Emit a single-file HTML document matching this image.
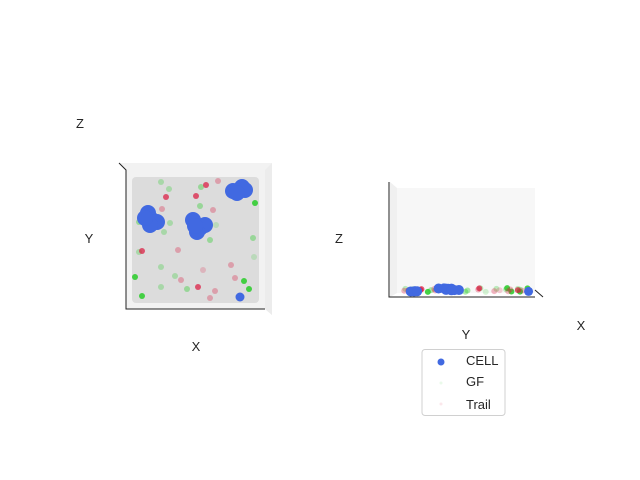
<!DOCTYPE html>
<html><head><meta charset="utf-8"><style>
html,body{margin:0;padding:0;background:#fff;}
svg{display:block;font-family:"Liberation Sans","DejaVu Sans",sans-serif;}
text{font-size:13px;fill:#262626;}
</style></head><body>
<svg id="chart" width="640" height="480" viewBox="0 0 640 480">
  <rect width="640" height="480" fill="#fff"/>
  <g>
    <polygon points="120,163 272,163 272,315 265,309 126,309 126,170" fill="#f2f2f2"/>
    <polygon points="265,170 272,163 272,315 265,309" fill="#ececec"/>
    <rect x="132" y="177" width="127" height="126" rx="4" fill="#dcdcdc"/>
    <path d="M119,163 L126,170 L126,309 L265,309" fill="none" stroke="#222" stroke-width="1"/>
    <g id="leftPts"></g>
    <text x="80" y="128" text-anchor="middle">Z</text>
    <text x="89" y="243" text-anchor="middle">Y</text>
    <text x="196" y="351" text-anchor="middle">X</text>
  </g>
  <g>
    <polygon points="390,182 397,188 397,293 390,297" fill="#f0f0f0"/>
    <rect x="397" y="188" width="138" height="105" fill="#f7f7f7"/>
    <path d="M389,182 L389,297 L535,297 M535,290 L543,297" fill="none" stroke="#222" stroke-width="1"/>
    <g id="rightPts"></g>
    <text x="339" y="243" text-anchor="middle">Z</text>
    <text x="466" y="339" text-anchor="middle">Y</text>
    <text x="581" y="330" text-anchor="middle">X</text>
  </g>
  <g>
    <rect x="422" y="349.5" width="83" height="66" rx="3" fill="#fff" stroke="#d0d0d0"/>
    <circle cx="441" cy="362" r="3.5" fill="#4169e1"/>
    <text x="466" y="365">CELL</text>
    <circle cx="441" cy="383" r="1.5" fill="#32cd32" opacity="0.1"/>
    <text x="466" y="386">GF</text>
    <circle cx="441" cy="404" r="1.5" fill="#dc143c" opacity="0.1"/>
    <text x="466" y="409">Trail</text>
  </g>
</svg>
<script>
const cellX=[16,20,25,18,13,61,68,73,65,63,101,110,113,105,108];
const cellY=[90,83,81,78,85,83,75,78,71,77,112,116,113,110,6];
const gfX=[29,37,69,123,68,7,38,32,78,121,7,29,3,43,112,117,55,29,10,84,122];
const gfY=[121,114,116,100,97,81,80,71,63,65,51,36,26,27,22,14,14,16,7,78,46];
const gfA=[0.3,0.3,0.4,0.9,0.4,0.4,0.3,0.3,0.4,0.4,0.3,0.3,0.9,0.3,0.9,0.9,0.4,0.3,0.9,0.2,0.2];
const trX=[74,34,64,86,30,81,10,46,71,49,66,78,83,103,99];
const trY=[118,106,107,122,94,93,52,53,33,23,16,5,12,25,38];
const trA=[0.7,0.7,0.7,0.3,0.3,0.3,0.7,0.3,0.2,0.3,0.7,0.3,0.3,0.3,0.3];
const sx=v=>132+v, sy=v=>303-v;
const rx=y=>535-y*135/126, rz=x=>288+x/127*4;
const NS='http://www.w3.org/2000/svg';
const L=document.getElementById('leftPts'), R=document.getElementById('rightPts');
function dot(g,cx,cy,r,fill,op,name){
  const c=document.createElementNS(NS,'circle');
  c.setAttribute('cx',cx);c.setAttribute('cy',cy);c.setAttribute('r',r);
  c.setAttribute('fill',fill);c.setAttribute('opacity',op);
  
  
  g.appendChild(c);
}
for(let i=0;i<gfX.length;i++){dot(L,sx(gfX[i]),sy(gfY[i]),3,'#32cd32',gfA[i],'gf-point');dot(R,rx(gfY[i]),rz(gfX[i]),3,'#32cd32',gfA[i],'gf-point');}
for(let i=0;i<trX.length;i++){dot(L,sx(trX[i]),sy(trY[i]),3,'#dc143c',trA[i],'trail-point');dot(R,rx(trY[i]),rz(trX[i]),3,'#dc143c',trA[i],'trail-point');}
for(let i=0;i<cellX.length;i++){const r=i==14?4.5:8;dot(L,sx(cellX[i]),sy(cellY[i]),r,'#4169e1',1,'cell-point');dot(R,rx(cellY[i]),rz(cellX[i]),i==14?4.5:5,'#4169e1',1,'cell-point');}
</script>
</body></html>
